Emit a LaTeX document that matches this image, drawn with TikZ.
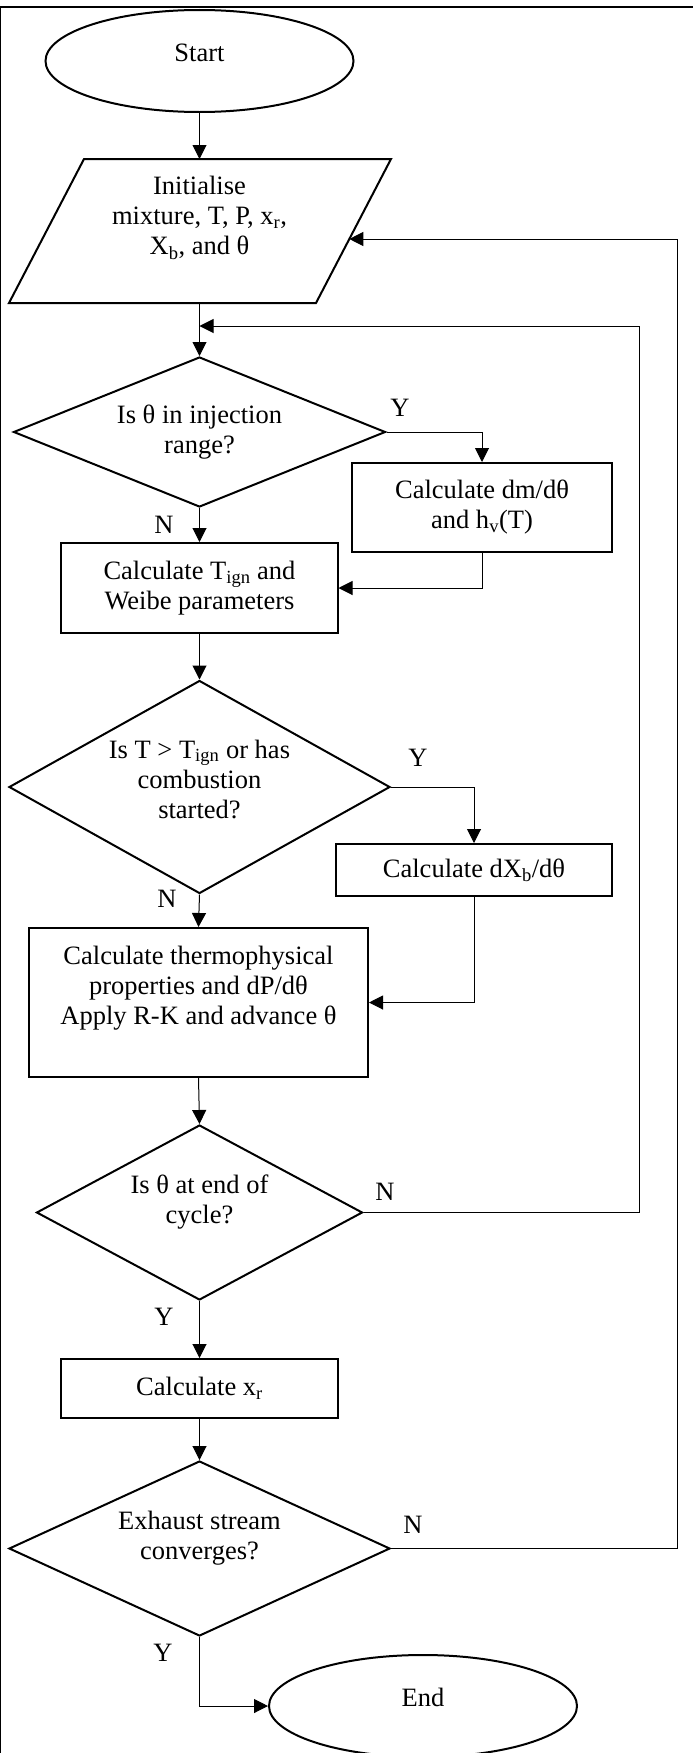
\documentclass[tikz,border=0pt]{standalone}
\usepackage{fontspec}
\setmainfont{Liberation Serif}
\usetikzlibrary{shapes.geometric,arrows.meta}
\newcommand\padbot[1]{\rule[-#1]{0pt}{#1}}
\begin{document}
\begin{tikzpicture}[x=1bp,y=-1bp,
  every node/.style={font=\fontsize{26.5bp}{30bp}\selectfont},
  shp/.style={draw, line width=2bp},
  proc/.style={shp, rectangle, align=center, inner sep=0pt},
  dec/.style={shp, diamond, align=center, inner sep=0pt},
  term/.style={shp, ellipse, inner sep=0pt, minimum width=308bp, minimum height=102bp},
  conn/.style={line width=1bp, -{Triangle[length=14bp,width=14bp]}},
  lbl/.style={inner sep=0pt}
]
\useasboundingbox (0,0) rectangle (693,1753);
% frame
\draw[line width=2bp] (0,6.5) -- (693,6.5);
\draw[line width=1.5bp] (0.75,6.5) -- (0.75,1753);

% start
\node[term] (start) at (199.5,61) {Start\padbot{16bp}};

% parallelogram
\coordinate (pTL) at (84,159);
\coordinate (pTR) at (391,159);
\coordinate (pBR) at (316,303);
\coordinate (pBL) at (9,303);
\draw[shp] (pTL) -- (pTR) -- (pBR) -- (pBL) -- cycle;
\node[align=center] (init) at (199.5,218) {Initialise\\mixture, T, P, x\textsubscript{r},\\X\textsubscript{b}, and θ};
\coordinate (initTop) at (199.5,159);
\coordinate (initBot) at (199.5,303);
\coordinate (initIn) at (349.3,239);

% decisions and processes
\node[dec, minimum width=372bp, minimum height=150bp, aspect=2.48] (d1) at (199.5,432) {Is θ in injection\\range?};
\node[proc, minimum width=260bp, minimum height=89bp] (b1) at (482,507.5) {Calculate dm/dθ\\and h\textsubscript{v}(T)};
\node[proc, minimum width=276bp, minimum height=90bp] (b2) at (199.5,588) {Calculate T\textsubscript{ign} and\\Weibe parameters};
\node[dec, minimum width=381bp, minimum height=213bp, aspect=1.79] (d2) at (199.5,787) {Is T > T\textsubscript{ign} or has\\combustion\\started?\padbot{16bp}};
\node[proc, minimum width=276bp, minimum height=52bp] (b3) at (474,870) {Calculate dX\textsubscript{b}/dθ};
\node[proc, minimum width=339bp, minimum height=149bp] (big) at (198.5,1002.5) {Calculate thermophysical\\properties and dP/dθ\\Apply R-K and advance θ\padbot{35bp}};
\node[dec, minimum width=326bp, minimum height=175bp, aspect=1.86] (d3) at (199.5,1212.5) {Is θ at end of\\cycle?\padbot{26bp}};
\node[proc, minimum width=277bp, minimum height=59bp] (bx) at (199.5,1388.5) {Calculate x\textsubscript{r}};
\node[dec, minimum width=381bp, minimum height=175bp, aspect=2.18] (d4) at (199.5,1548.5) {Exhaust stream\\converges?\padbot{26bp}};
\node[term] (end) at (423,1706) {End\padbot{18bp}};

% loop coordinates
\coordinate (j1) at (199.5,326);
\coordinate (j1r) at (639,326);
\coordinate (pr) at (677,239);

% connectors
\draw[conn] (start.south) -- (initTop);
\draw[conn] (initBot) -- (d1.north);
\draw[conn] (d1.east) -| (b1.north);
\draw[conn] (d1.south) -- (b2.north);
\draw[conn] (b1.south) |- (b2.east);
\draw[conn] (b2.south) -- (d2.north);
\draw[conn] (d2.east) -| (b3.north);
\draw[conn] (d2.south) -- (big.north);
\draw[conn] (b3.south) |- (big.east);
\draw[conn] (big.south) -- (d3.north);
\draw[conn] (d3.east) -| (j1r) -- (j1);
\draw[conn] (d3.south) -- (bx.north);
\draw[conn] (bx.south) -- (d4.north);
\draw[conn] (d4.east) -| (pr) -- (initIn);
\draw[conn] (d4.south) |- (end.west);

% labels
\node[lbl] (yl1) at (400,408) {Y};
\node[lbl] (nl1) at (164,525) {N};
\node[lbl] (yl2) at (418,758) {Y};
\node[lbl] (nl2) at (167,899) {N};
\node[lbl] (nl3) at (385,1192) {N};
\node[lbl] (yl3) at (164,1317) {Y};
\node[lbl] (nl4) at (413,1525) {N};
\node[lbl] (yl4) at (163,1653) {Y};
\end{tikzpicture}
\end{document}
